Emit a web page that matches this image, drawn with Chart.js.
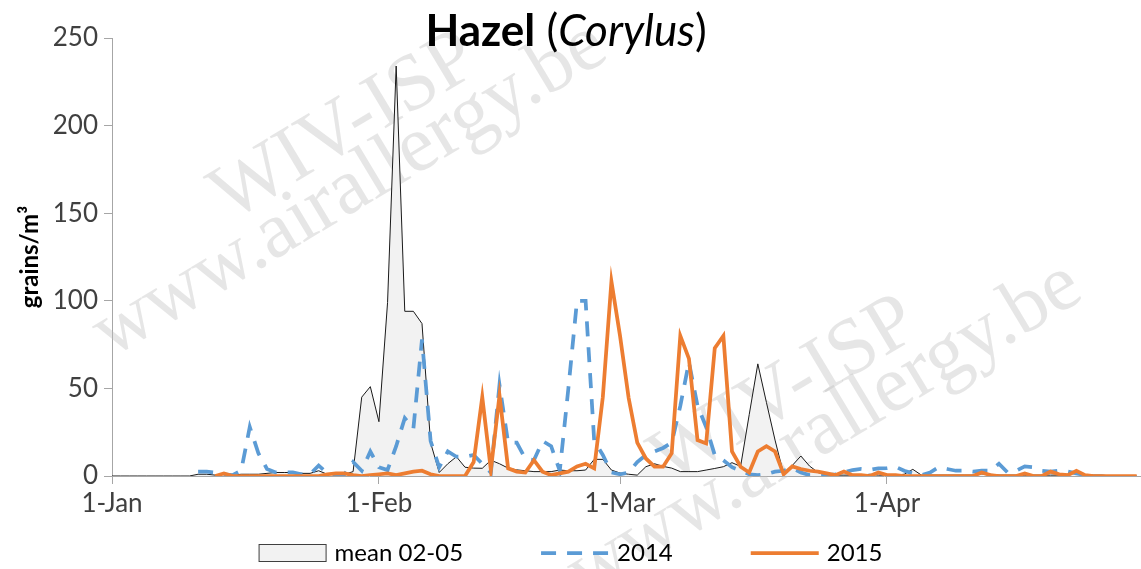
<!DOCTYPE html>
<html>
<head>
<meta charset="utf-8">
<script src="https://cdn.jsdelivr.net/npm/chart.js@4.4.1/dist/chart.umd.min.js"></script>
<style>
    html, body { margin: 0; padding: 0; background: #fff; }
    #wrap { position: relative; width: 1141px; height: 569px; }
</style>
</head>
<body>
<div id="wrap"><canvas id="chart"></canvas></div>
<script>
// day index 0 = 1 January, one value per day
const dayCount = 120;
const days = Array.from({ length: dayCount }, (_, i) => i);

const tickDays = [0, 31, 59, 90];
const tickLabels = ['1-Jan', '1-Feb', '1-Mar', '1-Apr'];

const seriesNames = ['mean 02-05', '2014', '2015'];

const mean0205 = [
    0, 0, 0, 0, 0, 0, 0, 0, 0, 0,
    1, 1, 0.5, 1, 0.5, 1, 1, 1, 1.5, 2,
    2, 2, 1.5, 1.5, 3, 1, 1, 1, 2.5, 45,
    51, 31, 99, 234, 94, 94, 87, 19, 2, 7,
    11, 5, 4.5, 4.4, 9, 7, 4.5, 3.5, 3, 2.5,
    2.5, 2.5, 3.4, 3, 3, 3.4, 9.5, 9.5, 3.4, 1.7,
    1, 0.5, 5.3, 7, 5.5, 4.5, 2.5, 2.5, 2.5, 3.4,
    4.3, 5.3, 7.6, 5.5, 35, 64, 42, 20.5, 1, 6,
    11.4, 5.7, 2, 0.5, 0.5, 0.5, 0.5, 0.5, 1, 0.5,
    0.5, 0.5, 1, 3.8, 0.5, 0.5, 0.5, 0.5, 0.5, 0.5,
    0.5, 1.2, 1, 0.5, 0.5, 0.5, 0.5, 0.5, 0.5, 0.5,
    0.5, 1, 2, 0.5, 0.5, 0.5, 0, 0, 0, 0
];

const y2014 = [
    null, null, null, null, null, null, null, null, null, null,
    2.5, 2.5, 2, 1, 0.5, 3, 28, 13, 4, 2,
    2, 2, 1, 1, 6, 1.5, 0.5, 1, 8, 3,
    14, 5, 3.4, 17, 33, 27, 78, 20, 5, 14,
    11, 11, 12, 7, 2, 52, 19, 19, 10, 9,
    20, 17, 3, 50, 100, 100, 20, 12, 2, 1,
    2, 8, 12, 14, 16, 19, 40, 65, 40, 28,
    12, 9, 5, 3, 1, 0.5, 1, 2.5, 3, 4.5,
    2, 0.5, 0.5, 0.5, 1, 2, 3.4, 4, 3.5, 4.4,
    4.5, 5.3, 3, 1.5, 0.5, 2, 5, 4, 3, 3,
    2.5, 3, 3, 7, 2, 3, 5.5, 5, 3, 2.5,
    3, 2.5, 1.5, 0.5, null, null, null, null, null, null
];

const y2015 = [
    null, null, null, null, null, null, null, null, null, null,
    null, null, 0, 1.5, 0, 0, 0, 0, 0, 0,
    0, 0, 0, 0, 0, 1, 1.5, 1.5, 0.5, 0,
    0.5, 1, 1.5, 0.5, 1.5, 2.5, 3, 1, 0, 0,
    0, 0, 8, 45, 3.4, 46, 4.4, 2.5, 2, 9,
    2.5, 0.5, 1.5, 2.5, 5.5, 7, 4.4, 45, 111, 80,
    44.5, 19, 10, 5.3, 5.3, 13, 80, 67, 20.5, 18.6,
    73, 80, 14, 5.3, 2, 14, 17, 14, 1, 5.5,
    4, 3, 2.5, 1.5, 0.5, 2.5, 0.5, 0.5, 0, 2,
    0.5, 0.5, 0, 0, 0, 0, 0, 0, 0, 0,
    0, 2, 0.5, 0, 0, 0, 1.5, 0, 0, 2.5,
    1, 0.5, 3, 0.5, 0, 0, 0, 0, 0, 0
];

const titleBold = 'Hazel';
const titleGenus = 'Corylus';
const yTitle = 'grains/m³';
const watermarkLines = ['WIV-ISP', 'www.airallergy.be'];

const fontFamily = 'Lato, "Liberation Sans", sans-serif';
const axisGray = '#a6a6a6';
const labelColor = '#404040';
const blue = '#5b9bd5';
const orange = '#ed7d31';

const toPoints = (values) => values.map((v, i) => ({ x: days[i], y: v }));

const watermarkPlugin = {
    id: 'watermark',
    beforeDatasetsDraw(chart) {
        const ctx = chart.ctx;
        const spots = [[345, 128, 350, 190], [785, 392, 825, 430]];
        ctx.save();
        ctx.fillStyle = 'rgba(190,190,190,0.38)';
        ctx.font = '80px "Liberation Serif", serif';
        ctx.textAlign = 'center';
        ctx.textBaseline = 'middle';
        spots.forEach(([x1, y1, x2, y2]) => {
            [[x1, y1, watermarkLines[0]], [x2, y2, watermarkLines[1]]].forEach(([x, y, t]) => {
                ctx.save();
                ctx.translate(x, y);
                ctx.rotate(-31 * Math.PI / 180);
                ctx.fillText(t, 0, 0);
                ctx.restore();
            });
        });
        ctx.restore();
    }
};

const titlePlugin = {
    id: 'mixedTitle',
    afterDraw(chart) {
        const ctx = chart.ctx;
        const parts = [
            [titleBold, 'bold'],
            [' (', 'normal'],
            [titleGenus, 'italic'],
            [')', 'normal']
        ];
        const size = 44;
        ctx.save();
        ctx.fillStyle = '#000';
        ctx.textBaseline = 'alphabetic';
        let total = 0;
        parts.forEach(([t, s]) => {
            ctx.font = `${s} ${size}px ${fontFamily}`;
            total += ctx.measureText(t).width;
        });
        let x = 566 - total / 2;
        parts.forEach(([t, s]) => {
            ctx.font = `${s} ${size}px ${fontFamily}`;
            ctx.fillText(t, x, 46);
            x += ctx.measureText(t).width;
        });
        ctx.restore();
    }
};

const legendPlugin = {
    id: 'bottomLegend',
    afterDraw(chart) {
        const ctx = chart.ctx;
        const y = 553;
        const sample = 68, textGap = 8, itemGap = 78;
        ctx.save();
        ctx.font = `24px ${fontFamily}`;
        const items = chart.data.datasets.map(ds => ({ ds, w: sample + textGap + ctx.measureText(ds.label).width }));
        const total = items.reduce((a, it) => a + it.w, 0) + itemGap * (items.length - 1);
        let x = chart.width / 2 - total / 2;
        items.forEach(({ ds, w }) => {
            if (ds.fill) {
                ctx.fillStyle = ds.backgroundColor;
                ctx.fillRect(x, y - 9, sample, 18);
                ctx.strokeStyle = '#404040';
                ctx.lineWidth = 1;
                ctx.strokeRect(x + 0.5, y - 8.5, sample - 1, 17);
            } else {
                ctx.strokeStyle = ds.borderColor;
                ctx.lineWidth = ds.borderWidth;
                ctx.setLineDash(ds.borderDash || []);
                ctx.beginPath();
                ctx.moveTo(x, y);
                ctx.lineTo(x + sample, y);
                ctx.stroke();
                ctx.setLineDash([]);
            }
            ctx.fillStyle = '#000';
            ctx.textBaseline = 'middle';
            ctx.fillText(ds.label, x + sample + textGap, y);
            x += w + itemGap;
        });
        ctx.restore();
    }
};

new Chart(document.getElementById('chart'), {
    type: 'line',
    data: {
        datasets: [
            {
                label: seriesNames[0],
                data: toPoints(mean0205),
                borderColor: '#1a1a1a',
                borderWidth: 1,
                backgroundColor: '#f2f2f2',
                fill: 'origin',
                pointRadius: 0,
                tension: 0,
                order: 3
            },
            {
                label: seriesNames[1],
                data: toPoints(y2014),
                borderColor: blue,
                borderWidth: 3.75,
                borderDash: [15, 11],
                fill: false,
                pointRadius: 0,
                tension: 0,
                order: 2
            },
            {
                label: seriesNames[2],
                data: toPoints(y2015),
                borderColor: orange,
                borderWidth: 3.75,
                fill: false,
                pointRadius: 0,
                tension: 0,
                order: 1
            }
        ]
    },
    options: {
        responsive: true,
        maintainAspectRatio: false,
        animation: false,
        devicePixelRatio: 1,
        layout: { padding: { top: 38, right: 0, bottom: 48, left: 0 } },
        plugins: {
            legend: { display: false },
            title: { display: false },
            tooltip: { enabled: false }
        },
        scales: {
            x: {
                type: 'linear',
                min: 0,
                max: 119.5,
                afterBuildTicks: (scale) => {
                    scale.ticks = tickDays.map(v => ({ value: v }));
                },
                afterFit: (scale) => { scale.height = 45; },
                ticks: {
                    autoSkip: false,
                    maxRotation: 0,
                    padding: 4,
                    color: labelColor,
                    font: { size: 26, family: fontFamily },
                    callback: (value, index) => tickLabels[index]
                },
                grid: { drawOnChartArea: false, tickLength: 8, color: axisGray },
                border: { color: axisGray, width: 1 }
            },
            y: {
                min: 0,
                max: 250,
                afterFit: (scale) => { scale.width = 112; },
                ticks: {
                    stepSize: 50,
                    padding: 6,
                    color: labelColor,
                    font: { size: 26, family: fontFamily }
                },
                grid: { drawOnChartArea: false, tickLength: 8, color: axisGray },
                border: { color: axisGray, width: 1 },
                title: {
                    display: true,
                    text: yTitle,
                    color: '#000',
                    font: { size: 24, weight: 'bold', family: fontFamily },
                    padding: { top: 16, bottom: 0 }
                }
            }
        }
    },
    plugins: [watermarkPlugin, titlePlugin, legendPlugin]
});
</script>
</body>
</html>
